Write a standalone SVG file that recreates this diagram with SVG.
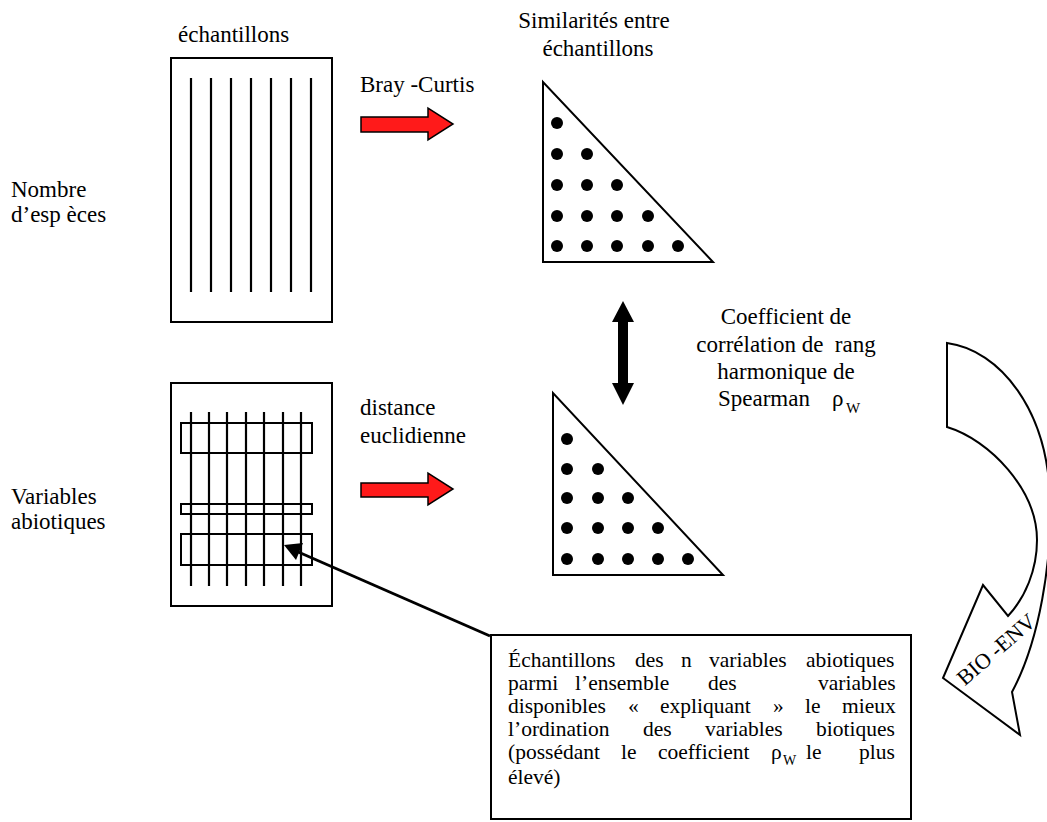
<svg xmlns="http://www.w3.org/2000/svg" width="1047" height="822" viewBox="0 0 1047 822" font-family="'Liberation Serif', 'DejaVu Serif', serif">
<defs>
<style>
text{font-family:'Liberation Serif','DejaVu Serif',serif;fill:#000}
.t{font-size:23px}
.b{font-size:21.5px}
.box{fill:#fff;stroke:#000;stroke-width:2}
.ln{stroke:#000;stroke-width:2.2;fill:none}
.red{fill:#ff1a1a;stroke:#000;stroke-width:1.5;stroke-linejoin:miter}
.dot{fill:#000}
</style>
</defs>
<rect width="1047" height="822" fill="#fff"/>

<g id="label-nombre"><text class="t" x="11" y="197">Nombre</text><text class="t" x="11" y="222">d’esp èces</text></g>
<g id="label-variables"><text class="t" x="11" y="504">Variables</text><text class="t" x="11" y="529">abiotiques</text></g>

<g id="matrix-species">
<text class="t" x="178" y="42">échantillons</text>
<rect class="box" x="171" y="58" width="161" height="264"/>
<path class="ln" d="M191,78V292M211,78V292M231,78V292M251,78V292M271,78V292M291,78V292M311,78V292"/>
</g>

<g id="matrix-abiotic">
<rect class="box" x="171" y="383" width="161" height="223"/>
<rect x="181" y="423" width="131" height="30" fill="none" stroke="#000" stroke-width="2"/>
<rect x="181" y="504" width="131" height="10" fill="none" stroke="#000" stroke-width="2"/>
<rect x="181" y="534" width="131" height="31" fill="none" stroke="#000" stroke-width="2"/>
<path class="ln" d="M191,412V586M209,412V586M227,412V586M246,412V586M264,412V586M283,412V586M301,412V586"/>
</g>

<g id="sim-top">
<text class="t" x="594" y="28" text-anchor="middle">Similarités entre</text>
<text class="t" x="598" y="56" text-anchor="middle">échantillons</text>
<path d="M543,82 L543,262 L713,262 Z" fill="#fff" stroke="#000" stroke-width="2"/>
<g class="dot">
<circle cx="557" cy="123" r="6"/>
<circle cx="557" cy="154" r="6"/><circle cx="587" cy="154" r="6"/>
<circle cx="557" cy="185" r="6"/><circle cx="587" cy="185" r="6"/><circle cx="617" cy="185" r="6"/>
<circle cx="557" cy="216" r="6"/><circle cx="587" cy="216" r="6"/><circle cx="617" cy="216" r="6"/><circle cx="648" cy="216" r="6"/>
<circle cx="557" cy="246" r="6"/><circle cx="587" cy="246" r="6"/><circle cx="617" cy="246" r="6"/><circle cx="648" cy="246" r="6"/><circle cx="678" cy="246" r="6"/>
</g>
</g>

<g id="sim-bottom">
<path d="M553,393 L553,575 L723,575 Z" fill="#fff" stroke="#000" stroke-width="2"/>
<g class="dot">
<circle cx="567" cy="439" r="6"/>
<circle cx="567" cy="469" r="6"/><circle cx="598" cy="469" r="6"/>
<circle cx="567" cy="498" r="6"/><circle cx="598" cy="498" r="6"/><circle cx="628" cy="498" r="6"/>
<circle cx="567" cy="528" r="6"/><circle cx="598" cy="528" r="6"/><circle cx="628" cy="528" r="6"/><circle cx="658" cy="528" r="6"/>
<circle cx="567" cy="559" r="6"/><circle cx="598" cy="559" r="6"/><circle cx="628" cy="559" r="6"/><circle cx="658" cy="559" r="6"/><circle cx="688" cy="559" r="6"/>
</g>
</g>

<g id="coef-label">
<text class="t" x="786" y="324" text-anchor="middle">Coefficient de</text>
<text class="t" x="786" y="352" text-anchor="middle" style="white-space:pre">corrélation de  rang</text>
<text class="t" x="786" y="379" text-anchor="middle">harmonique de</text>
<text class="t" x="718" y="406">Spearman</text>
<text class="t" x="832" y="406">ρ</text>
<text x="846" y="413" style="font-size:15px">W</text>
</g>

<g id="result-box">
<rect x="491" y="635" width="420" height="184" fill="#fff" stroke="#000" stroke-width="2"/>
<text class="b" y="667"><tspan x="508">Échantillons</tspan><tspan x="635">des</tspan><tspan x="681">n</tspan><tspan x="709">variables</tspan><tspan x="806">abiotiques</tspan></text>
<text class="b" y="690"><tspan x="508">parmi</tspan><tspan x="575">l’ensemble</tspan><tspan x="708">des</tspan><tspan x="818">variables</tspan></text>
<text class="b" y="713"><tspan x="508">disponibles</tspan><tspan x="628">«</tspan><tspan x="660">expliquant</tspan><tspan x="773">»</tspan><tspan x="805">le</tspan><tspan x="842">mieux</tspan></text>
<text class="b" y="736"><tspan x="508">l’ordination</tspan><tspan x="643">des</tspan><tspan x="705">variables</tspan><tspan x="816">biotiques</tspan></text>
<text class="b" y="759"><tspan x="508">(possédant</tspan><tspan x="621">le</tspan><tspan x="658">coefficient</tspan><tspan x="771">ρ</tspan></text>
<text x="783" y="765" style="font-size:14px">W</text>
<text class="b" y="759"><tspan x="806">le</tspan><tspan x="859">plus</tspan></text>
<text class="b" x="508" y="784">élevé)</text>
</g>

<g id="cycle-arrow">
<path d="M947,343 L947,427 C990,440 1037,490 1037,540 C1037,570 1025,598 1008,616 L983,585 L943,678 L1020,735 L1012,692 C1040,640 1052,560 1050,500 C1048,410 1000,350 947,343 Z" fill="#fff" stroke="#000" stroke-width="2" stroke-linejoin="miter"/>
<text x="1001" y="655" text-anchor="middle" transform="rotate(-41 1001 655)" style="font-size:22px">BIO -ENV</text>
</g>

<g id="connectors">
<text class="t" x="360" y="92">Bray -Curtis</text>
<polygon class="red" points="361,117 428,117 428,108 453,124 428,140 428,132 361,132"/>
<text class="t" x="360" y="415">distance</text>
<text class="t" x="360" y="443">euclidienne</text>
<polygon class="red" points="361,483 428,483 428,473 453,489 428,505 428,497 361,497"/>
<polygon points="623,301 634,322 628,322 628,383 634,383 623,405 612,383 618,383 618,322 612,322" fill="#000"/>
<line x1="490" y1="636" x2="296" y2="551" stroke="#000" stroke-width="3"/>
<polygon points="284,545 303,543 296,560" fill="#000"/>
</g>
</svg>
